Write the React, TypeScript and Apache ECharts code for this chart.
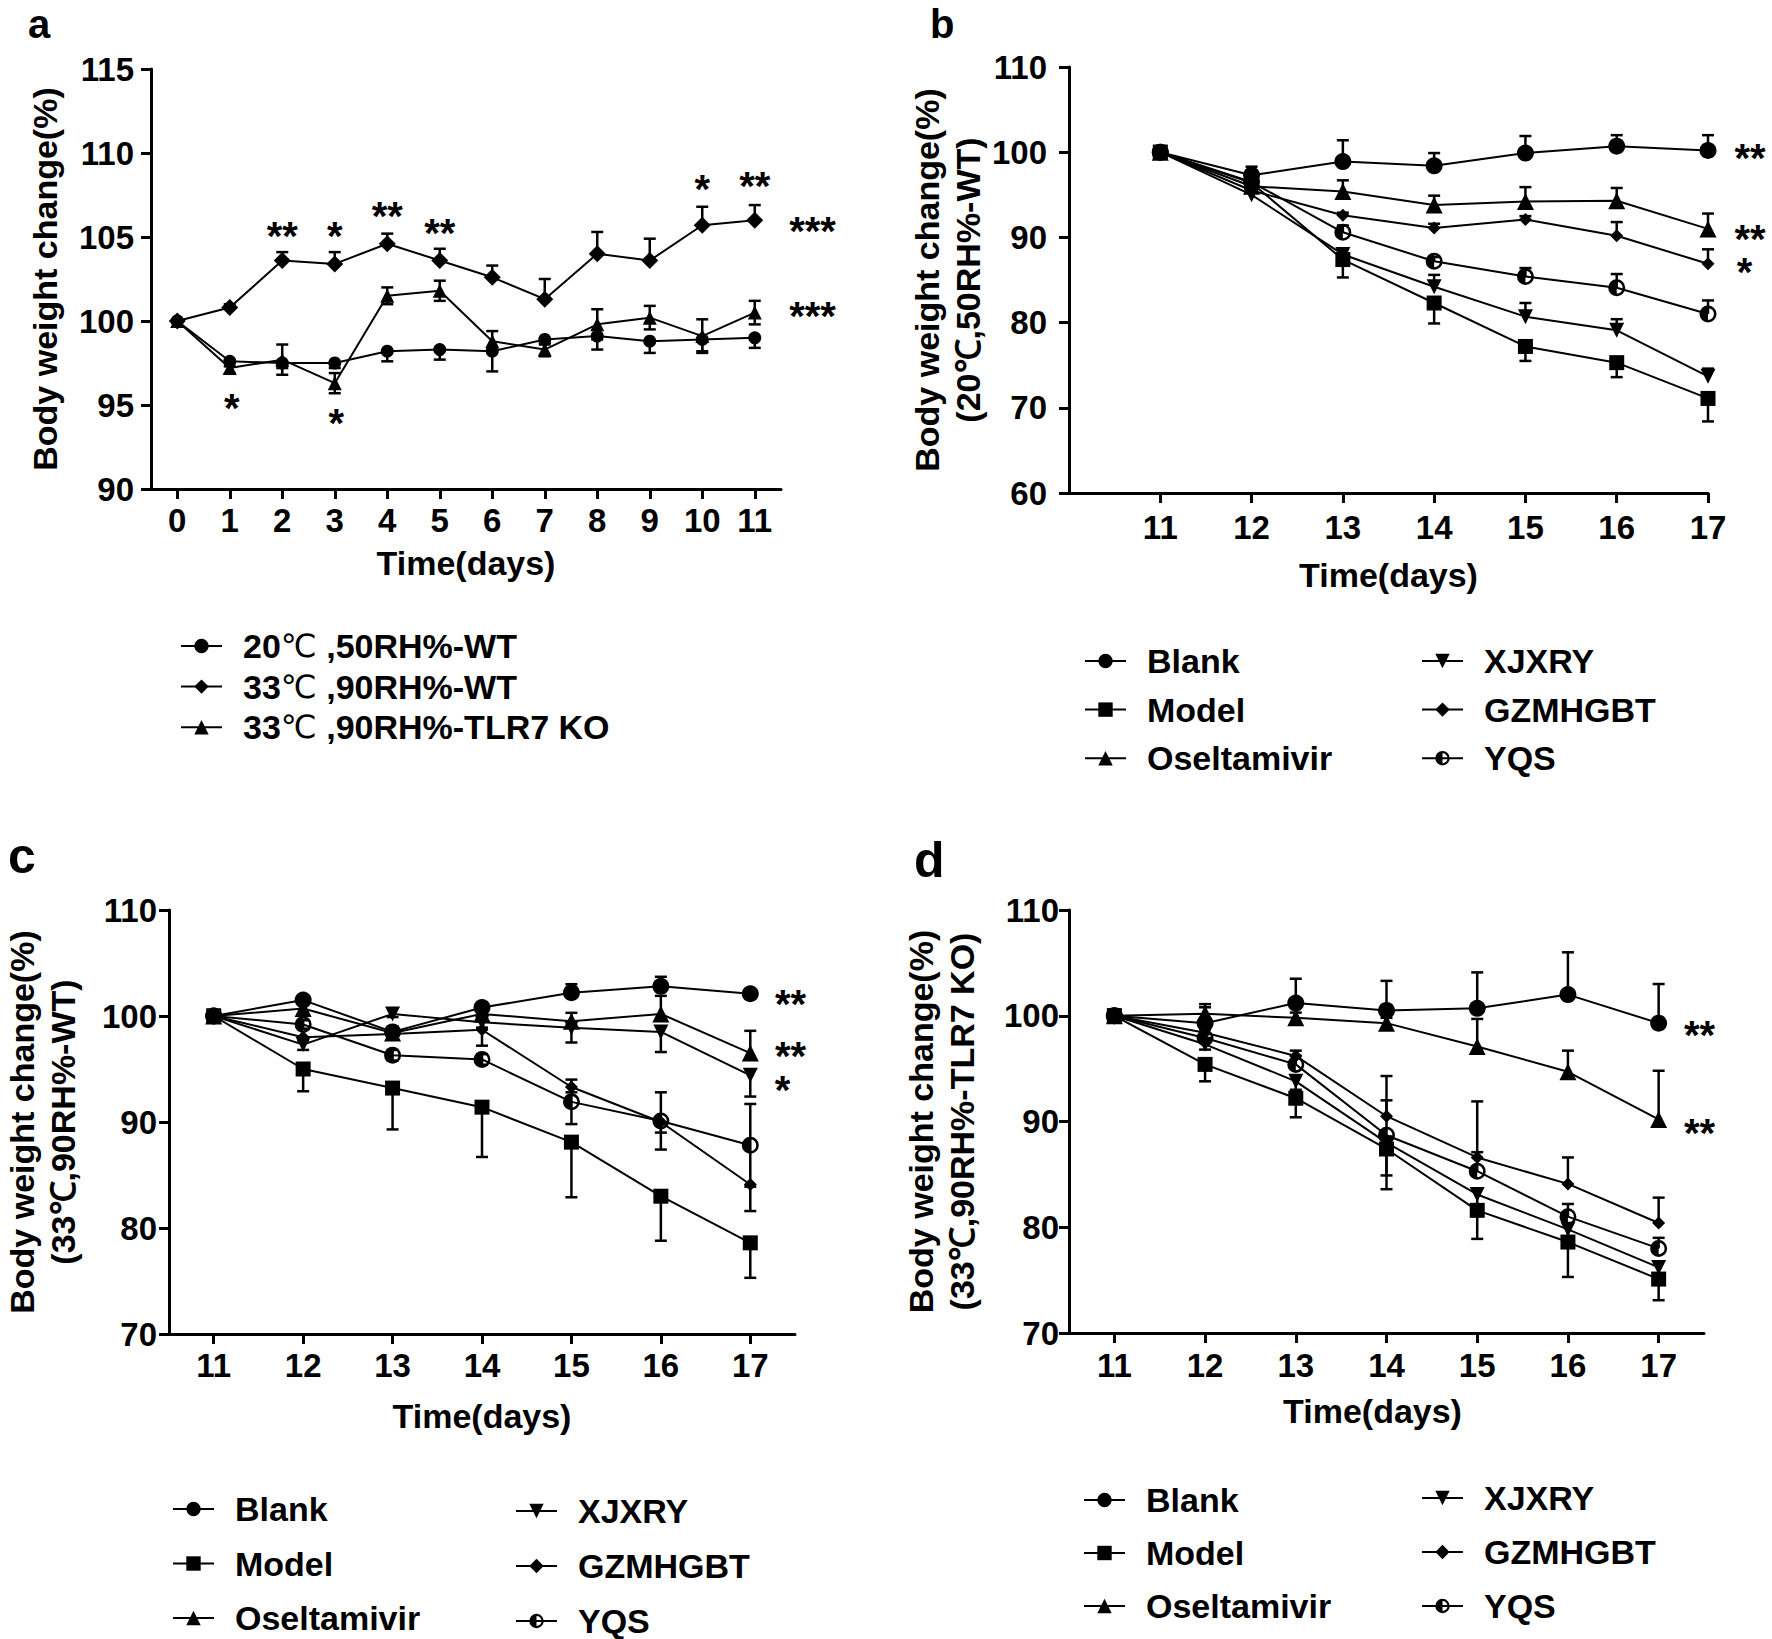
import React, { useEffect, useRef } from "react";
import * as echarts from "echarts";

const FONT = "'Liberation Sans', Arial, Helvetica, sans-serif";
const THIN = "'DejaVu Sans', sans-serif";
const BLACK = "#000";

// ---------- Panel a ----------
const daysA = [0, 1, 2, 3, 4, 5, 6, 7, 8, 9, 10, 11];
const aNames = ["20℃ ,50RH%-WT", "33℃ ,90RH%-WT", "33℃ ,90RH%-TLR7 KO"];
const a20WT = [100, 97.6, 97.5, 97.5, 98.2, 98.3, 98.2, 98.9, 99.1, 98.8, 98.9, 99.0];
const a20WTErr = [0, 0.3, 0.3, 0.3, 0.6, 0.6, 1.2, 0.3, 0.8, 0.7, 0.7, 0.6];
const a33WT = [100, 100.8, 103.6, 103.4, 104.6, 103.6, 102.6, 101.3, 104.0, 103.6, 105.7, 106.0];
const a33WTErr = [0, 0.2, 0.5, 0.7, 0.6, 0.7, 0.7, 1.2, 1.3, 1.3, 1.1, 0.9];
const a33KO = [100, 97.2, 97.7, 96.3, 101.5, 101.8, 98.8, 98.3, 99.8, 100.2, 99.1, 100.5];
const a33KOErr = [0, 0.3, 0.9, 0.6, 0.5, 0.6, 0.6, 0.4, 0.9, 0.7, 1.0, 0.7];
const aStars: [number, number, string][] = [
  [2, 105.5, "**"], [3, 105.5, "*"], [4, 106.65, "**"], [5, 105.65, "**"],
  [10, 108.3, "*"], [11, 108.45, "**"], [12.1, 105.75, "***"], [12.1, 100.7, "***"],
  [1.04, 95.25, "*"], [3.03, 94.35, "*"],
];

// ---------- Panels b, c, d ----------
const treatDays = [11, 12, 13, 14, 15, 16, 17];
const groupNames = ["Blank", "Model", "Oseltamivir", "XJXRY", "GZMHGBT", "YQS"];

// b: 20℃,50RH%-WT
const bBlank = [100, 97.3, 98.9, 98.4, 99.9, 100.7, 100.2];
const bBlankErr = [0, 1.0, 2.5, 1.5, 2.0, 1.3, 1.8];
const bModel = [100, 96.4, 87.4, 82.3, 77.2, 75.3, 71.1];
const bModelErr = [0, 0.8, 2.1, 2.4, 1.7, 1.7, 2.7];
const bOsel = [100, 96.0, 95.4, 93.8, 94.2, 94.3, 91.0];
const bOselErr = [0, 0.8, 1.3, 1.1, 1.7, 1.5, 1.8];
const bXJXRY = [100, 95.0, 88.0, 84.2, 80.7, 79.1, 73.7];
const bXJXRYErr = [0, 0.5, 0.6, 1.4, 1.6, 1.3, 0.9];
const bGZM = [100, 95.5, 92.6, 91.1, 92.1, 90.2, 86.9];
const bGZMErr = [0, 0.5, 0.3, 0.5, 0.4, 1.6, 1.7];
const bYQS = [100, 96.5, 90.6, 87.2, 85.4, 84.1, 81.0];
const bYQSErr = [0, 0.5, 0.8, 0.5, 1.0, 1.6, 1.6];
const bStars: [number, number, string][] = [[17.46, 100.1, "**"], [17.46, 90.65, "**"], [17.4, 86.8, "*"]];

// c: 33℃,90RH%-WT
const cBlank = [100, 101.5, 98.5, 100.8, 102.2, 102.8, 102.1];
const cBlankErr = [0, 0.3, 0.5, 0.5, 0.8, 0.9, 0.3];
const cModel = [100, 95.0, 93.2, 91.4, 88.1, 83.0, 78.6];
const cModelErr = [0, 2.1, 3.9, 4.7, 5.2, 4.2, 3.3];
const cOsel = [100, 100.7, 98.4, 100.2, 99.5, 100.2, 96.5];
const cOselErr = [0, 0.4, 0.5, 0.5, 0.8, 1.7, 2.1];
const cXJXRY = [100, 97.3, 100.2, 99.4, 98.9, 98.5, 94.4];
const cXJXRYErr = [0, 0.5, 0.3, 0.5, 1.4, 1.9, 2.0];
const cGZM = [100, 98.0, 98.3, 98.7, 93.3, 90.0, 84.1];
const cGZMErr = [0, 0.3, 0.5, 1.5, 0.5, 1.0, 2.5];
const cYQS = [100, 99.2, 96.3, 95.9, 91.9, 90.1, 87.8];
const cYQSErr = [0, 0.4, 0.5, 0.5, 2.1, 2.7, 3.9];
const cStars: [number, number, string][] = [[17.45, 101.8, "**"], [17.45, 96.9, "**"], [17.36, 93.7, "*"]];

// d: 33℃,90RH%-TLR7 KO
const dBlank = [100, 99.3, 101.2, 100.5, 100.7, 102.0, 99.3];
const dBlankErr = [0, 1.8, 2.3, 2.8, 3.4, 4.0, 3.7];
const dModel = [100, 95.4, 92.2, 87.4, 81.6, 78.6, 75.1];
const dModelErr = [0, 1.6, 1.8, 3.8, 2.7, 3.3, 2.0];
const dOsel = [100, 100.2, 99.8, 99.3, 97.1, 94.7, 90.2];
const dOselErr = [0, 0.6, 0.5, 0.5, 2.6, 2.0, 4.6];
const dXJXRY = [100, 97.3, 93.8, 88.0, 83.1, 79.8, 76.2];
const dXJXRYErr = [0, 0.5, 0.8, 3.1, 1.0, 1.0, 0.8];
const dGZM = [100, 98.4, 96.2, 90.5, 86.6, 84.1, 80.4];
const dGZMErr = [0, 0.5, 0.5, 3.8, 0.5, 2.5, 2.4];
const dYQS = [100, 97.9, 95.4, 88.7, 85.3, 81.0, 78.0];
const dYQSErr = [0, 0.8, 0.8, 3.3, 6.6, 1.2, 1.0];
const dStars: [number, number, string][] = [[17.45, 98.8, "**"], [17.45, 89.6, "**"]];

// ---------- helpers ----------
type Dir = "up" | "down" | "both";

const SYM_DOWN = "path://M0,0L20,0L10,18Z";
const SYM_YQS =
  "path://M10,0A10,10 0 1 1 10,20A10,10 0 1 1 10,0Z" +
  "M10,3A7,7 0 1 0 10,17A7,7 0 1 0 10,3Z" +
  "M10,3A7,7 0 0 0 10,17Z";

function lineSeries(axis: number, name: string, days: number[], vals: number[], symbol: string, size: number) {
  return {
    type: "line",
    name,
    xAxisIndex: axis,
    yAxisIndex: axis,
    z: 3,
    clip: false,
    silent: true,
    data: days.map((d, i) => [d, vals[i]]),
    symbol,
    symbolSize: size,
    showAllSymbol: true,
    lineStyle: { color: BLACK, width: 2 },
    itemStyle: { color: BLACK, borderWidth: 0 },
    emphasis: { disabled: true },
  };
}

function errorSeries(axis: number, days: number[], vals: number[], errs: number[], dir: Dir) {
  const data = days.map((d, i) => {
    const v = vals[i];
    const e = errs[i];
    return [d, v, dir === "up" ? v : v - e, dir === "down" ? v : v + e];
  });
  return {
    type: "custom",
    xAxisIndex: axis,
    yAxisIndex: axis,
    z: 2,
    silent: true,
    clip: false,
    data,
    encode: { x: 0, y: 1 },
    renderItem: (_params: any, api: any) => {
      const x = api.value(0);
      const v = api.value(1);
      const lo = api.value(2);
      const hi = api.value(3);
      const children: any[] = [];
      if (hi - lo > 1e-9) {
        const pLo = api.coord([x, lo]);
        const pHi = api.coord([x, hi]);
        const style = { stroke: BLACK, lineWidth: 2.5 };
        children.push({ type: "line", shape: { x1: pLo[0], y1: pLo[1], x2: pHi[0], y2: pHi[1] }, style });
        if (hi > v) children.push({ type: "line", shape: { x1: pHi[0] - 6, y1: pHi[1], x2: pHi[0] + 6, y2: pHi[1] }, style });
        if (lo < v) children.push({ type: "line", shape: { x1: pLo[0] - 6, y1: pLo[1], x2: pLo[0] + 6, y2: pLo[1] }, style });
      }
      return { type: "group", children };
    },
  };
}

function starSeries(axis: number, stars: [number, number, string][]) {
  return {
    type: "scatter",
    xAxisIndex: axis,
    yAxisIndex: axis,
    z: 5,
    silent: true,
    clip: false,
    symbolSize: 1,
    itemStyle: { color: "transparent", opacity: 1 },
    data: stars.map((s) => ({ value: [s[0], s[1]], name: s[2] })),
    label: {
      show: true,
      position: "inside",
      formatter: "{b}",
      fontSize: 40,
      fontWeight: "bold",
      fontFamily: FONT,
      color: BLACK,
      opacity: 1,
      textBorderWidth: 0,
      lineHeight: 22,
      offset: [0, 7],
    },
    emphasis: { disabled: true },
  };
}

function xAxis(grid: number, min: number, max: number, ticks: number[], margin: number, nameGap: number, namePad = [0, 0, 0, 0]) {
  return {
    type: "value",
    gridIndex: grid,
    min,
    max,
    axisLine: { show: true, onZero: false, lineStyle: { color: BLACK, width: 3 } },
    axisTick: { show: true, length: 10, customValues: ticks, lineStyle: { color: BLACK, width: 3 } },
    axisLabel: {
      customValues: ticks,
      fontSize: 33,
      fontWeight: "bold",
      fontFamily: FONT,
      color: BLACK,
      margin,
    },
    splitLine: { show: false },
    name: "Time(days)",
    nameLocation: "middle",
    nameGap,
    nameTextStyle: { fontSize: 34, fontWeight: "bold", fontFamily: FONT, color: BLACK, padding: namePad },
  };
}

function yAxis(grid: number, min: number, max: number, interval: number, margin: number, name: string, nameGap: number) {
  return {
    type: "value",
    gridIndex: grid,
    min,
    max,
    interval,
    axisLine: { show: true, onZero: false, lineStyle: { color: BLACK, width: 3 } },
    axisTick: { show: true, length: 10, lineStyle: { color: BLACK, width: 3 } },
    axisLabel: { fontSize: 33, fontWeight: "bold", fontFamily: FONT, color: BLACK, margin },
    splitLine: { show: false },
    name,
    nameLocation: "middle",
    nameRotate: 90,
    nameGap,
    nameTextStyle: { fontSize: 34, fontWeight: "bold", fontFamily: FONT, color: BLACK, lineHeight: 41, align: "center" },
  };
}

function legend(names: string[], left: number, top: number, gap: number, degree = false) {
  const lg: any = {
    show: true,
    orient: "vertical",
    left,
    top,
    height: 220,
    padding: 0,
    itemGap: gap,
    itemWidth: 41,
    itemHeight: 18,
    selectedMode: false,
    data: names,
    textStyle: {
      fontSize: 34,
      fontWeight: "bold",
      fontFamily: FONT,
      color: BLACK,
      padding: [0, 0, 0, 16],
      rich: {
        t: { fontSize: 32, fontWeight: "normal", fontFamily: THIN, color: BLACK },
      },
    },
  };
  if (degree) lg.formatter = (n: string) => n.replace("℃", "{t|℃}");
  return lg;
}

function treatmentSeries(axis: number, vals: number[][], errs: number[][], dirs: Dir[]) {
  const symbols = ["circle", "rect", "triangle", SYM_DOWN, "diamond", SYM_YQS];
  const sizes = [17, 15, 17, 15, 13, 17];
  const out: any[] = [];
  groupNames.forEach((n, i) => {
    out.push(errorSeries(axis, treatDays, vals[i], errs[i], dirs[i]));
    out.push(lineSeries(axis, n, treatDays, vals[i], symbols[i], sizes[i]));
  });
  return out;
}

function panelLetter(text: string, x: number, y: number, size: number) {
  return {
    type: "text",
    x,
    y,
    silent: true,
    style: {
      text,
      fontSize: size,
      fontWeight: "bold",
      fontFamily: FONT,
      fill: BLACK,
      lineHeight: Math.round(size * 0.8),
      verticalAlign: "middle",
      align: "left",
    },
  };
}

export default function App() {
  const ref = useRef<HTMLDivElement>(null);

  useEffect(() => {
    if (!ref.current) return;
    const chart = echarts.init(ref.current, undefined, { renderer: "svg" });

    const series: any[] = [
      errorSeries(0, daysA, a20WT, a20WTErr, "down"),
      errorSeries(0, daysA, a33WT, a33WTErr, "up"),
      errorSeries(0, daysA, a33KO, a33KOErr, "both"),
      lineSeries(0, aNames[0], daysA, a20WT, "circle", 13),
      lineSeries(0, aNames[1], daysA, a33WT, "diamond", 17),
      lineSeries(0, aNames[2], daysA, a33KO, "triangle", 14),
      starSeries(0, aStars),
      ...treatmentSeries(
        1,
        [bBlank, bModel, bOsel, bXJXRY, bGZM, bYQS],
        [bBlankErr, bModelErr, bOselErr, bXJXRYErr, bGZMErr, bYQSErr],
        ["up", "down", "up", "up", "up", "up"]
      ),
      starSeries(1, bStars),
      ...treatmentSeries(
        2,
        [cBlank, cModel, cOsel, cXJXRY, cGZM, cYQS],
        [cBlankErr, cModelErr, cOselErr, cXJXRYErr, cGZMErr, cYQSErr],
        ["up", "down", "up", "down", "down", "both"]
      ),
      starSeries(2, cStars),
      ...treatmentSeries(
        3,
        [dBlank, dModel, dOsel, dXJXRY, dGZM, dYQS],
        [dBlankErr, dModelErr, dOselErr, dXJXRYErr, dGZMErr, dYQSErr],
        ["up", "down", "up", "down", "up", "up"]
      ),
      starSeries(3, dStars),
    ];

    const option: any = {
      animation: false,
      backgroundColor: "#fff",
      textStyle: { fontFamily: FONT },
      grid: [
        { left: 151, top: 69, width: 630, height: 420 },
        { left: 1069, top: 67, width: 639, height: 426 },
        { left: 160, top: 910, width: 635, height: 424 },
        { left: 1069, top: 910, width: 635, height: 423 },
      ],
      xAxis: [
        xAxis(0, -0.5, 11.5, daysA, 15, 57),
        xAxis(1, 10, 17, treatDays, 18, 65),
        xAxis(2, 10.5, 17.5, treatDays, 15, 65),
        xAxis(3, 10.5, 17.5, treatDays, 16, 61, [0, 28, 0, 0]),
      ],
      yAxis: [
        yAxis(0, 90, 115, 5, 17, "Body weight change(%)", 86),
        yAxis(1, 60, 110, 10, 22, "Body weight change(%)\n(20℃,50RH%-WT)", 80),
        yAxis(2, 70, 110, 10, 12, "Body weight change(%)\n(33℃,90RH%-WT)", 86),
        yAxis(3, 70, 110, 10, 10, "Body weight change(%)\n(33℃,90RH%-TLR7 KO)", 87),
      ],
      legend: [
        legend(aNames, 180, 629, 6.6, true),
        legend(groupNames.slice(0, 3), 1084, 644, 14.6),
        legend(groupNames.slice(3), 1421, 644, 14.6),
        legend(groupNames.slice(0, 3), 172, 1492, 20.5),
        legend(groupNames.slice(3), 515, 1494, 21),
        legend(groupNames.slice(0, 3), 1083, 1483, 19),
        legend(groupNames.slice(3), 1421, 1481, 20),
      ],
      graphic: [
        panelLetter("a", 28, 23.5, 40),
        panelLetter("b", 930, 23.5, 40),
        panelLetter("c", 8, 856, 50),
        panelLetter("d", 914, 860, 50),
      ],
      series,
    };

    chart.setOption(option);
    return () => chart.dispose();
  }, []);

  return (
    <div
      ref={ref}
      style={{ position: "absolute", left: 0, top: 0, width: 1772, height: 1639, background: "#fff" }}
    />
  );
}
